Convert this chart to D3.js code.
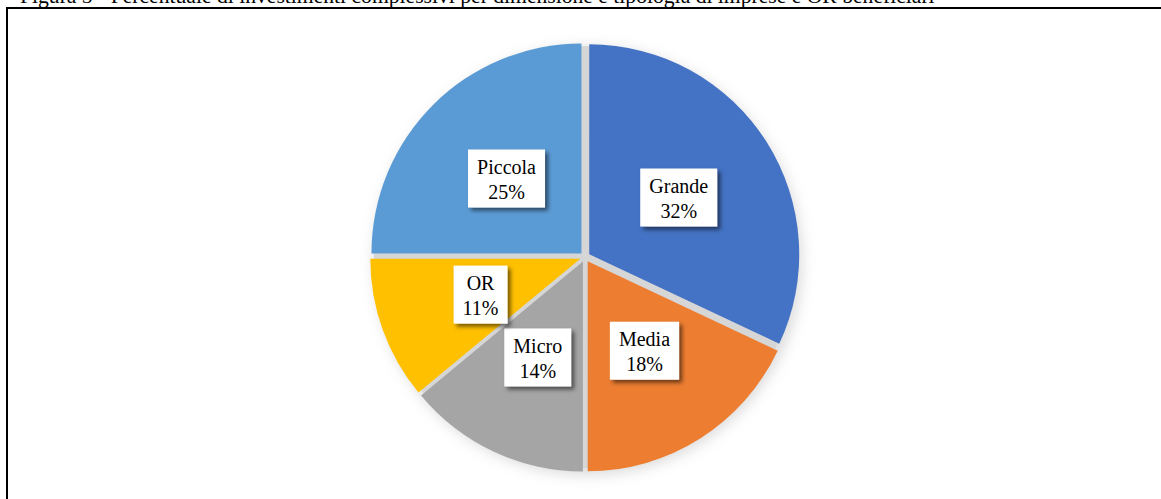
<!DOCTYPE html>
<html>
<head>
<meta charset="utf-8">
<script src="https://cdn.jsdelivr.net/npm/d3@7/dist/d3.min.js"></script>
<style>
  html, body { margin: 0; padding: 0; background: #ffffff; }
  svg { display: block; }
  .serif { font-family: "Liberation Serif", "Times New Roman", "DejaVu Serif", serif; }
</style>
</head>
<body>
<svg id="chart" width="1161" height="499"></svg>
<script>
// Data: share of total investment by size / type of beneficiary
const categories = ["Grande", "Media", "Micro", "OR", "Piccola"];
const shares = [32, 18, 14, 11, 25];
const colors = ["#4472C4", "#ED7D31", "#A5A5A5", "#FFC000", "#5B9BD5"];
const titleText = "Figura 5 - Percentuale di investimenti complessivi per dimensione e tipologia di imprese e OR beneficiari";

const svg = d3.select("#chart");
const W = 1161, H = 499;
const cx = 585, cy = 257, R = 210, explode = 5, labelR = 111;

const defs = svg.append("defs");
defs.append("filter").attr("id", "halo").attr("x", "-20%").attr("y", "-20%").attr("width", "140%").attr("height", "140%")
  .append("feGaussianBlur").attr("stdDeviation", 7);
defs.append("filter").attr("id", "boxShadow").attr("x", "-30%").attr("y", "-30%").attr("width", "160%").attr("height", "160%")
  .append("feDropShadow").attr("dx", 3).attr("dy", 3).attr("stdDeviation", 2)
  .attr("flood-color", "#000").attr("flood-opacity", 0.55);

// Caption above the frame (its top runs past the page edge)
const title = svg.append("text")
  .attr("class", "serif")
  .attr("x", 20).attr("y", 3)
  .attr("font-size", 18).attr("fill", "#000")
  .text(titleText);
const tw = title.node().getComputedTextLength();
title.attr("font-size", 18 * 915 / tw);

// Frame
svg.append("line").attr("x1", 6).attr("x2", W).attr("y1", 8).attr("y2", 8)
  .attr("stroke", "#000").attr("stroke-width", 2);
svg.append("line").attr("x1", 7).attr("x2", 7).attr("y1", 7).attr("y2", H)
  .attr("stroke", "#000").attr("stroke-width", 2);

const color = d3.scaleOrdinal().domain(categories).range(colors);
const pie = d3.pie().sort(null).value(d => d.value).startAngle(0).endAngle(2 * Math.PI);
const arcs = pie(categories.map((c, i) => ({ name: c, value: shares[i] })));
const arc = d3.arc().innerRadius(0).outerRadius(R);
const dirArc = d3.arc().innerRadius(1).outerRadius(1);
const labelArc = d3.arc().innerRadius(labelR).outerRadius(labelR);

const g = svg.append("g").attr("transform", `translate(${cx},${cy})`);

// Soft shadow under the pie and the grey seams between exploded slices
g.append("circle").attr("cx", 3).attr("cy", 4).attr("r", R + 4)
  .attr("fill", "#bdbdbd").attr("opacity", 0.55).attr("filter", "url(#halo)");
g.append("circle").attr("r", R + 1).attr("fill", "#d6d6d6");

g.selectAll("path.slice").data(arcs).enter().append("path")
  .attr("class", "slice")
  .attr("d", arc)
  .attr("fill", d => color(d.data.name))
  .attr("transform", d => {
    const [dx, dy] = dirArc.centroid(d);
    return `translate(${dx * explode},${dy * explode})`;
  });

// Data labels in white boxes
const lab = g.selectAll("g.label").data(arcs).enter().append("g")
  .attr("class", "label")
  .attr("transform", d => `translate(${labelArc.centroid(d)})`);

lab.each(function (d) {
  const sel = d3.select(this);
  const rect = sel.append("rect").attr("fill", "#fff").attr("filter", "url(#boxShadow)");
  const t = sel.append("text").attr("class", "serif").attr("text-anchor", "middle")
    .attr("font-size", 20).attr("fill", "#000");
  t.append("tspan").attr("x", 0).attr("y", -4.5).text(d.data.name);
  t.append("tspan").attr("x", 0).attr("y", 20.5).text(d.data.value + "%");
  const w = t.node().getBBox().width + 18;
  rect.attr("x", -w / 2).attr("y", -29).attr("width", w).attr("height", 58);
});
</script>
</body>
</html>
